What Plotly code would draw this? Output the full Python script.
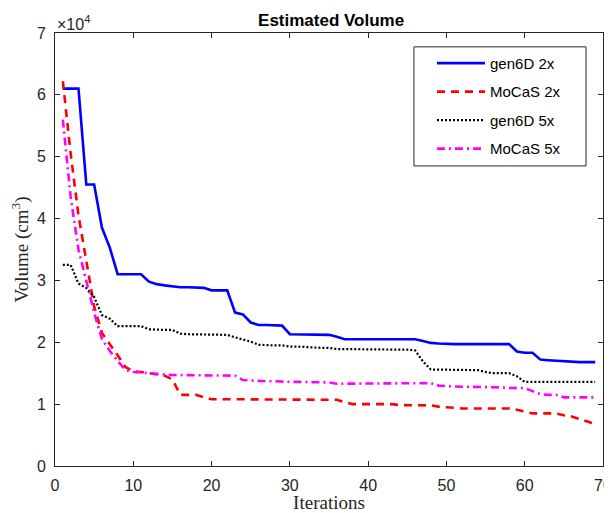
import plotly.graph_objects as go

iterations = list(range(1, 70))

gen6d_2x = [61.0, 61.0, 61.0, 45.5, 45.5, 38.5, 35.3, 31.0, 31.0, 31.0,
            31.0, 29.8, 29.4, 29.2, 29.0, 28.9, 28.9, 28.8, 28.8, 28.4,
            28.4, 28.4, 24.8, 24.5, 23.2, 22.8, 22.8, 22.7, 22.7, 21.3,
            21.3, 21.3, 21.3, 21.3, 21.2, 20.9, 20.5, 20.5, 20.5, 20.5,
            20.5, 20.5, 20.5, 20.5, 20.5, 20.5, 20.2, 19.9, 19.8, 19.7,
            19.7, 19.7, 19.7, 19.7, 19.7, 19.7, 19.7, 19.7, 18.5, 18.3,
            18.3, 17.2, 17.1, 17.0, 17.0, 16.8, 16.8, 16.8, 16.8]

mocas_2x = [62.2, 50.5, 40.5, 32.8, 25.8, 21.5, 19.8, 17.9, 16.0, 15.3,
            15.2, 15.0, 14.9, 14.6, 14.0, 11.5, 11.5, 11.5, 11.1, 10.8,
            10.8, 10.8, 10.8, 10.8, 10.8, 10.8, 10.8, 10.8, 10.7, 10.7,
            10.7, 10.7, 10.7, 10.7, 10.7, 10.7, 10.3, 10.0, 10.0, 10.0,
            10.0, 10.0, 10.0, 9.85, 9.85, 9.85, 9.85, 9.8, 9.6, 9.5,
            9.3, 9.3, 9.3, 9.3, 9.3, 9.3, 9.3, 9.3, 9.1, 8.8,
            8.5, 8.5, 8.5, 8.5, 8.2, 8.0, 7.6, 7.2, 6.8]

gen6d_5x = [32.5, 32.5, 29.5, 28.8, 27.3, 24.4, 23.8, 22.6, 22.6, 22.6,
            22.6, 22.1, 22.0, 22.0, 22.0, 21.4, 21.3, 21.3, 21.3, 21.3,
            21.3, 21.2, 20.8, 20.5, 20.1, 19.6, 19.5, 19.5, 19.5, 19.3,
            19.3, 19.2, 19.2, 19.1, 19.1, 18.9, 18.9, 18.9, 18.8, 18.8,
            18.8, 18.8, 18.8, 18.8, 18.8, 18.7, 16.9, 15.6, 15.6, 15.6,
            15.5, 15.5, 15.5, 15.5, 15.2, 15.0, 15.0, 15.0, 14.5, 13.6,
            13.6, 13.6, 13.6, 13.6, 13.6, 13.6, 13.6, 13.6, 13.6]

mocas_5x = [56.0, 43.5, 35.0, 30.1, 24.8, 20.5, 18.6, 17.0, 15.5, 15.2,
            15.1, 15.0, 14.8, 14.7, 14.7, 14.7, 14.7, 14.7, 14.7, 14.7,
            14.7, 14.7, 14.6, 13.9, 13.8, 13.8, 13.7, 13.7, 13.6, 13.6,
            13.6, 13.6, 13.6, 13.6, 13.5, 13.3, 13.3, 13.3, 13.3, 13.3,
            13.3, 13.3, 13.3, 13.3, 13.3, 13.3, 13.4, 13.4, 13.0, 12.9,
            12.8, 12.8, 12.8, 12.8, 12.7, 12.7, 12.7, 12.6, 12.6, 12.6,
            12.1, 11.6, 11.5, 11.5, 11.1, 11.1, 11.1, 11.1, 11.1]

x_ticks = [0, 10, 20, 30, 40, 50, 60, 70]
y_ticks = [0, 10000, 20000, 30000, 40000, 50000, 60000, 70000]
y_tick_labels = ["0", "1", "2", "3", "4", "5", "6", "7"]
series_names = ["gen6D 2x", "MoCaS 2x", "gen6D 5x", "MoCaS 5x"]

series_values = [gen6d_2x, mocas_2x, gen6d_5x, mocas_5x]
styles = [
    ("#0000FF", "solid", 2.6),
    ("#FF0000", "8px,6px", 2.6),
    ("#000000", "2px,2px", 2.2),
    ("#FF00FF", "8px,4px,2px,4px", 2.6),
]

fig = go.Figure()
for i, (name, vals, (color, dash, w)) in enumerate(zip(series_names, series_values, styles)):
    fig.add_trace(go.Scatter(
        x=iterations, y=[v * 1000 for v in vals], mode="lines",
        name=name, legendgroup=f"g{i}",
        line=dict(color=color, dash=dash, width=w),
    ))

axis_common = dict(
    showgrid=False, zeroline=False, showline=True, linecolor="#262626",
    linewidth=1, mirror="ticks", ticks="inside", ticklen=5, automargin=False,
    tickcolor="#262626", ticklabelstandoff=5,
    tickfont=dict(family="Liberation Sans", size=16, color="#262626"),
)

# the page adds an 8px body margin, so the figure is 8px smaller and margins shifted
fig.update_layout(
    width=604, height=505,
    margin=dict(l=47, r=9, t=25, b=47),
    paper_bgcolor="white", plot_bgcolor="white",
    title=dict(text="<b>Estimated Volume</b>", x=0.535, xanchor="center",
               y=0.976, yanchor="middle",
               font=dict(family="Liberation Sans", size=17, color="black")),
    xaxis=dict(range=[0, 70], tickvals=x_ticks,
               title=dict(text="Iterations", standoff=4,
                          font=dict(family="Liberation Serif", size=19, color="#262626")),
               **axis_common),
    yaxis=dict(range=[0, 70000], tickvals=y_ticks, ticktext=y_tick_labels,
               title=dict(text="Volume (cm<sup>3</sup>)", standoff=4,
                          font=dict(family="Liberation Serif", size=19, color="#262626")),
               **axis_common),
    legend=dict(x=0.688, y=0.968, xanchor="left", yanchor="top",
                bgcolor="rgba(0,0,0,0)", borderwidth=0,
                font=dict(family="Liberation Sans", size=15, color="black"),
                tracegroupgap=6, itemwidth=48),
    showlegend=True,
)

# legend frame (white box with a thin border, as in the reference)
fig.add_shape(type="rect", xref="paper", yref="paper",
              x0=0.655, x1=0.969, y0=0.693, y1=0.968,
              line=dict(color="#262626", width=1), fillcolor="white", layer="above")

fig.add_annotation(x=0, y=1, xref="paper", yref="paper", xanchor="left",
                   yanchor="bottom", text="×10<sup>4</sup>", showarrow=False,
                   font=dict(family="Liberation Sans", size=16, color="#262626"),
                   xshift=0, yshift=-2)

fig.write_html("out.html")
